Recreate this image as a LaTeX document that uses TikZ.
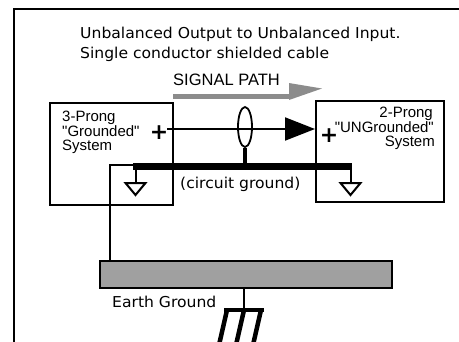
\documentclass[tikz,border=0pt]{standalone}
\usepackage{fontspec}
\setmainfont{Liberation Sans}[Ligatures=TeXOff]
\newfontfamily\gen[FakeStretch=1.04]{DejaVu Sans}
\newfontfamily\pls{DejaVu Sans}
\usetikzlibrary{shapes.geometric,arrows.meta}
\definecolor{sigcol}{HTML}{8C8C8C}
\definecolor{plategray}{HTML}{A0A0A0}
\begin{document}
\begin{tikzpicture}[x=1pt,y=-1pt,
  frame/.style={line width=2.2pt},
  boxline/.style={draw,line width=2pt,inner sep=0pt,anchor=north west},
  wire/.style={line width=2pt},
  helv/.style={font=\fontsize{15}{17}\selectfont, inner sep=0pt},
  genv/.style={font=\gen\fontsize{15}{18}\selectfont, inner sep=0pt},
  pluss/.style={font=\pls\bfseries\fontsize{22}{22}\selectfont, inner sep=0pt},
  gndsym/.style={line width=2pt, line join=miter},
  tine/.style={line width=4.5pt},
]
\useasboundingbox (0,0) rectangle (459,341);
\clip (0,0) rectangle (459,341);

% frame
\draw[frame] (14,345) -- (14,9) -- (462,9);

% titles
\node[genv, anchor=base west] (t1) at (80,38.3) {Unbalanced Output to Unbalanced Input.};
\node[genv, anchor=base west] (t2) at (80,58.3) {Single conductor shielded cable};

% signal path arrow
\node[font=\fontsize{16.5}{18}\selectfont, inner sep=0pt, anchor=base west] (sp) at (173,85) {SIGNAL PATH};
\fill[sigcol] (173,93.5) rectangle (291,98.5);
\fill[sigcol] (289,83) -- (322,88.5) -- (289,100) -- cycle;

% boxes
\node[boxline, minimum width=123pt, minimum height=102pt] (lbox) at (49,102) {};
\node[boxline, minimum width=128pt, minimum height=101pt] (rbox) at (315,100) {};

% left box labels
\node[helv, anchor=base west] (l1) at (62,121.7) {3-Prong};
\node[helv, anchor=base west] (l2) at (62,136) {"Grounded"};
\node[helv, anchor=base west] (l3) at (62,150.5) {System};
\node[pluss] (lplus) at (159,133) {+};

% right box labels
\node[helv, anchor=base east] (r1) at (433,117.5) {2-Prong};
\node[helv, anchor=base east] (r2) at (434,132.3) {"UNGrounded"};
\node[helv, anchor=base east] (r3) at (435,146.5) {System};
\node[pluss] (rplus) at (329,136) {+};

% shield and signal conductor
\node[draw, ellipse, line width=1.8pt, minimum width=14pt, minimum height=40pt, inner sep=0pt] (shield) at (245,127) {};
\coordinate (sigstart) at (167,129);
\draw[wire, -{Triangle[length=30pt,width=23pt]}] (sigstart) -- (rbox.west |- sigstart);

% circuit ground bar
\coordinate (barL) at (133,166.5);
\coordinate (barR) at (352,166.5);
\draw[line width=7pt] (barL) -- (barR);
\draw[line width=4pt] (shield.south) -- (shield.south |- barL);
\node[genv, anchor=base west] (cg) at (180,188) {(circuit ground)};

% ground symbols
\coordinate (lg) at (135.5,183);
\coordinate (rg) at (350.5,183);
\draw[gndsym] (lg |- barL) -- (lg);
\draw[gndsym] (lg) ++(-10,0) -- ++(20,0) -- ++(-10,12) -- cycle;
\draw[gndsym] (rg |- barL) -- (rg);
\draw[gndsym] (rg) ++(-10,0) -- ++(20,0) -- ++(-10,12) -- cycle;

% earth ground plate
\node[boxline, fill=plategray, minimum width=292pt, minimum height=27pt] (plate) at (99,260) {};
\coordinate (gtap) at (110,164.5);
\draw[wire] (barL |- gtap) -- (gtap) -- (gtap |- plate.north);
\node[genv, anchor=base west] (eg) at (112,307.3) {Earth Ground};

% earth symbol
\coordinate (etop) at (244,310);
\draw[wire] (plate.south -| etop) -- (etop);
\draw[line width=4pt] (224,310) -- (264,310);
\draw[tine] (227,310) -- (219,345) (244,310) -- (236,345) (261,310) -- (253,345);
\end{tikzpicture}
\end{document}
